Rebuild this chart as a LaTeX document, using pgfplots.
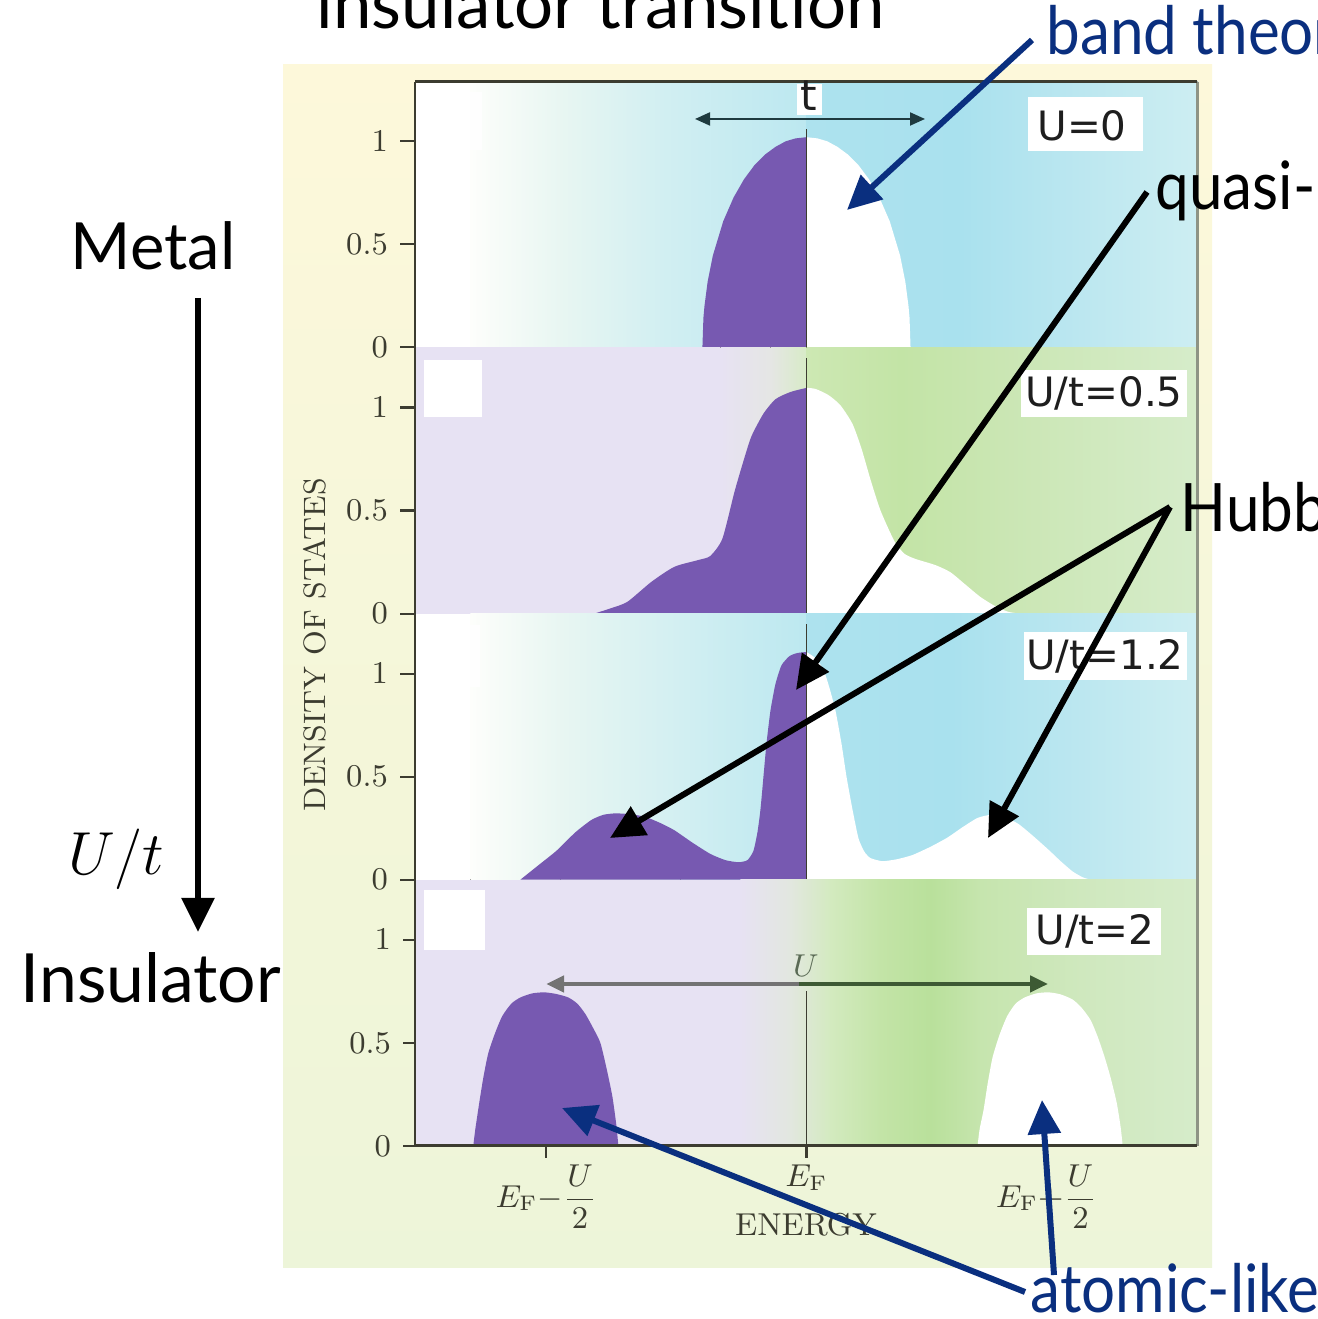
\documentclass[border=0pt]{standalone}
\usepackage{amsmath}
\usepackage{fontspec}
\usepackage{pgfplots}
\pgfplotsset{compat=1.18}
\usetikzlibrary{arrows.meta}
\newfontfamily\gill{Lato}
\newfontfamily\gilln[FakeStretch=0.9]{Lato}
\newfontfamily\dv{DejaVu Sans}
\definecolor{purp}{HTML}{7759B1}
\definecolor{navy}{HTML}{0A2F7F}
\definecolor{axdark}{HTML}{3C3C30}
\definecolor{axgray}{HTML}{8E9485}
\definecolor{bgtop}{HTML}{FDF8DA}
\definecolor{bgbot}{HTML}{EDF5D9}
\definecolor{lbl}{HTML}{1E1E1E}
% panel 1 / 3 cyan
\definecolor{cA}{HTML}{FDFEFB}
\definecolor{cB}{HTML}{E8F6F2}
\definecolor{cC}{HTML}{D2EFF2}
\definecolor{cD}{HTML}{C3EAF1}
\definecolor{cE}{HTML}{BCE8F0}
\definecolor{cF}{HTML}{ADE2EE}
\definecolor{cG}{HTML}{A9E1EE}
\definecolor{cH}{HTML}{BCE7F0}
\definecolor{cI}{HTML}{CDEEF2}
% lavender / green
\definecolor{lav}{HTML}{E7E2F3}
\definecolor{gA}{HTML}{E5E6E4}
\definecolor{gB}{HTML}{D7EBC6}
\definecolor{gC}{HTML}{CDE8B3}
\definecolor{gD}{HTML}{C3E4A6}
\definecolor{gE}{HTML}{CAE6B3}
\definecolor{gF}{HTML}{D6ECCA}
\definecolor{hA}{HTML}{E2E7DF}
\definecolor{hB}{HTML}{D3EABF}
\definecolor{hC}{HTML}{C3E4A7}
\definecolor{hD}{HTML}{B9E09B}
\definecolor{hE}{HTML}{C6E5AE}
\definecolor{hF}{HTML}{CFE8BE}
\definecolor{tarrow}{HTML}{1E3A3F}
\definecolor{uleft}{HTML}{737373}
\definecolor{uright}{HTML}{3D5A34}
\definecolor{ulab}{HTML}{5A6A55}
\pgfplotsset{panel/.style={width=7.82cm, height=2.66cm, scale only axis,
  xmin=415, xmax=1197, ymin=0, ymax=1.2913,
  axis line style={draw=none},
  ytick={0,0.5,1}, yticklabels={$0$,$0.5$,$1$},
  xtick=\empty, tick align=outside, tick pos=left, major tick length=0.15cm,
  every tick/.style={line width=0.6pt, color=axdark},
  yticklabel style={font=\fontsize{9.5}{10}\selectfont, text=axdark},
  anchor=south west}}
\tikzset{efline/.style={draw=axdark, line width=0.4pt},
  big/.style={line width=0.06cm, -{Triangle[length=0.34cm, width=0.32cm]}}}
\begin{document}
\begin{tikzpicture}[x=0.01cm,y=0.01cm]
\useasboundingbox (0,0) rectangle (1317,1319);
\clip (0,0) rectangle (1317,1319);
\fill[white] (0,0) rectangle (1317,1319);
\shade[top color=bgtop, bottom color=bgbot] (283,51) rectangle (1212,1254);

% ---------- panel 1: U=0
\begin{axis}[panel, at={(4.15cm,9.71cm)}]
\fill[white] (axis cs:415,0) rectangle (axis cs:471,1.2913);
\fill[left color=cA, right color=cB] (axis cs:470,0) rectangle (axis cs:561,1.2913);
\fill[left color=cB, right color=cC] (axis cs:560,0) rectangle (axis cs:661,1.2913);
\fill[left color=cC, right color=cD] (axis cs:660,0) rectangle (axis cs:761,1.2913);
\fill[left color=cD, right color=cE] (axis cs:760,0) rectangle (axis cs:807,1.2913);
\fill[left color=cF, right color=cG] (axis cs:806,0) rectangle (axis cs:961,1.2913);
\fill[left color=cG, right color=cH] (axis cs:960,0) rectangle (axis cs:1081,1.2913);
\fill[left color=cH, right color=cI] (axis cs:1080,0) rectangle (axis cs:1197,1.2913);
\addplot[fill=purp, draw=none] coordinates {(702,0) (703,0.144) (704.1,0.203) (707.2,0.318) (712.4,0.445) (722.8,0.612) (733.2,0.728) (743.6,0.816) (754,0.884) (764.4,0.935) (775,0.973) (785.2,1.0) (795,1.014) (806,1.02)} \closedcycle;
\addplot[fill=white, draw=none] coordinates {(806,1.02) (817,1.014) (826.8,1.0) (837,0.973) (847.6,0.935) (858,0.884) (868.4,0.816) (878.8,0.728) (889.2,0.612) (899.6,0.445) (904.8,0.318) (907.9,0.203) (909,0.144) (910,0)} \closedcycle;
\draw[efline] (axis cs:806,0) -- (axis cs:806,1.06);
\end{axis}

% ---------- panel 2: U/t=0.5
\begin{axis}[panel, at={(4.15cm,7.05cm)}]
\fill[lav] (axis cs:415,0) rectangle (axis cs:721,1.2913);
\fill[left color=lav, right color=gA] (axis cs:720,0) rectangle (axis cs:771,1.2913);
\fill[left color=gA, right color=gB] (axis cs:770,0) rectangle (axis cs:807,1.2913);
\fill[left color=gC, right color=gD] (axis cs:806,0) rectangle (axis cs:901,1.2913);
\fill[left color=gD, right color=gE] (axis cs:900,0) rectangle (axis cs:1001,1.2913);
\fill[left color=gE, right color=gF] (axis cs:1000,0) rectangle (axis cs:1197,1.2913);
\addplot[fill=purp, draw=none, smooth, tension=0.4] coordinates {(594,0) (610,0.025) (627,0.057) (651,0.154) (674,0.227) (698,0.26) (710,0.28) (722,0.364) (734,0.59) (743,0.74) (751,0.86) (763,0.97) (775,1.04) (790,1.075) (806,1.095)} \closedcycle;
\addplot[fill=white, draw=none, smooth, tension=0.4] coordinates {(806,1.095) (815,1.09) (828,1.06) (840,1.01) (852,0.92) (861,0.80) (870,0.65) (880,0.50) (894,0.35) (904,0.29) (915,0.265) (935,0.235) (950,0.20) (965,0.14) (980,0.08) (995,0.035) (1008,0.008) (1020,0)} \closedcycle;
\draw[efline] (axis cs:806,0) -- (axis cs:806,1.24);
\end{axis}

% ---------- panel 3: U/t=1.2
\begin{axis}[panel, at={(4.15cm,4.39cm)}]
\fill[white] (axis cs:415,0) rectangle (axis cs:471,1.2913);
\fill[left color=cA, right color=cB] (axis cs:470,0) rectangle (axis cs:561,1.2913);
\fill[left color=cB, right color=cC] (axis cs:560,0) rectangle (axis cs:681,1.2913);
\fill[left color=cC, right color=cE] (axis cs:680,0) rectangle (axis cs:807,1.2913);
\fill[left color=cF, right color=cG] (axis cs:806,0) rectangle (axis cs:951,1.2913);
\fill[left color=cG, right color=cH] (axis cs:950,0) rectangle (axis cs:1081,1.2913);
\fill[left color=cH, right color=cI] (axis cs:1080,0) rectangle (axis cs:1197,1.2913);
\addplot[fill=purp, draw=none, smooth, tension=0.35] coordinates {(520,0) (538,0.07) (556,0.14) (575,0.23) (591,0.29) (603,0.315) (615,0.322) (630,0.318) (645,0.305) (660,0.275) (674,0.24) (692,0.18) (710,0.125) (725,0.095) (738,0.085) (747,0.095) (753,0.14) (757,0.23) (760,0.34) (763,0.50) (766,0.66) (770,0.82) (775,0.95) (781,1.04) (789,1.085) (797,1.10) (806,1.105)} \closedcycle;
\addplot[fill=white, draw=none, smooth, tension=0.35] coordinates {(806,1.105) (815,1.075) (823,1.02) (829,0.93) (835,0.82) (841,0.66) (846,0.50) (852,0.34) (858,0.20) (864,0.135) (870,0.105) (882,0.09) (897,0.10) (912,0.12) (930,0.16) (947,0.205) (962,0.255) (977,0.30) (990,0.315) (1002,0.31) (1018,0.27) (1033,0.21) (1048,0.145) (1060,0.09) (1072,0.04) (1082,0.012) (1090,0)} \closedcycle;
\draw[efline] (axis cs:806,0) -- (axis cs:806,1.24);
\end{axis}

% ---------- panel 4: U/t=2
\begin{axis}[panel, at={(4.15cm,1.73cm)},
  xtick={546,806,1046},
  major tick length=0.12cm,
  xticklabels={$E_{\mathrm{F}}{-}\dfrac{U}{2}$, $E_{\mathrm{F}}$, $E_{\mathrm{F}}{+}\dfrac{U}{2}$},
  xticklabel style={font=\fontsize{9}{10}\selectfont, text=axdark, yshift=0.05cm}]
\fill[lav] (axis cs:415,0) rectangle (axis cs:741,1.2913);
\fill[left color=lav, right color=hA] (axis cs:740,0) rectangle (axis cs:791,1.2913);
\fill[left color=hA, right color=hB] (axis cs:790,0) rectangle (axis cs:831,1.2913);
\fill[left color=hB, right color=hC] (axis cs:830,0) rectangle (axis cs:881,1.2913);
\fill[left color=hC, right color=hD] (axis cs:880,0) rectangle (axis cs:931,1.2913);
\fill[left color=hD, right color=hE] (axis cs:930,0) rectangle (axis cs:981,1.2913);
\fill[left color=hE, right color=hF] (axis cs:980,0) rectangle (axis cs:1081,1.2913);
\fill[left color=hF, right color=gF] (axis cs:1080,0) rectangle (axis cs:1197,1.2913);
\addplot[fill=purp, draw=none, smooth, tension=0.4] coordinates {(473,0) (475,0.08) (479,0.21) (483,0.33) (488,0.45) (495,0.55) (502,0.63) (511,0.69) (520,0.72) (532,0.74) (544,0.745) (556,0.737) (568,0.72) (577,0.69) (585,0.64) (593,0.57) (600,0.50) (606,0.38) (612,0.24) (616,0.10) (618,0)} \closedcycle;
\addplot[fill=white, draw=none, smooth, tension=0.4] coordinates {(977,0) (979,0.08) (983,0.175) (987,0.30) (992,0.43) (999,0.54) (1006.6,0.63) (1015,0.69) (1024,0.72) (1036,0.74) (1048,0.745) (1060,0.735) (1072,0.71) (1081,0.67) (1090,0.61) (1097,0.53) (1104,0.43) (1110,0.33) (1116,0.21) (1120,0.09) (1122,0)} \closedcycle;
\draw[efline] (axis cs:806,0) -- (axis cs:806,0.75);
\end{axis}

% small white squares
\fill[white, opacity=0.85] (424,1169) rectangle (482,1227);
\fill[white] (424,902) rectangle (482,959);
\fill[white, opacity=0.85] (422,632) rectangle (480,694);
\fill[white] (424,369) rectangle (485,429);

% panel labels
\fill[white] (1028,1168) rectangle (1143,1222);
\fill[white] (1021,902) rectangle (1187,949);
\fill[white] (1024,639) rectangle (1187,687);
\fill[white] (1027,364) rectangle (1161,411);
\begin{scope}[every node/.style={font=\dv\fontsize{11.5}{12}\selectfont, text=lbl, inner sep=0pt}]
\node at (1082,1193) {U=0};
\node at (1104,926) {U/t=0.5};
\node at (1105,663) {U/t=1.2};
\node at (1095,388) {U/t=2};
\end{scope}

% frame
\draw[axgray, line width=0.03cm] (1197,173) -- (1197,1237);
\draw[axdark, line width=0.03cm] (415,1237) -- (1197,1237);
\draw[axdark, line width=0.025cm] (415,173) -- (415,1237);
\draw[axdark, line width=0.03cm] (415,173) -- (1197,173);

% axis titles
\node[rotate=90, font=\fontsize{8.8}{9}\selectfont, text=axdark] at (315,674) {DENSITY OF STATES};
\node[anchor=base, font=\fontsize{9}{10}\selectfont, text=axdark] at (806,83) {ENERGY};

% t arrow
\fill[white] (797,1204) rectangle (822,1235);
\node[anchor=base, font=\dv\fontsize{12}{12}\selectfont, text=lbl] at (809,1208) {t};
\draw[tarrow, line width=0.02cm, {Triangle[length=0.15cm, width=0.13cm]}-{Triangle[length=0.15cm, width=0.13cm]}] (695,1200) -- (925,1200);

% U arrow
\draw[uleft, line width=0.045cm, {Triangle[length=0.18cm, width=0.16cm]}-] (546,335) -- (800,335);
\draw[uright, line width=0.045cm, -{Triangle[length=0.18cm, width=0.16cm]}] (799,335) -- (1048,335);
\node[font=\fontsize{9}{10}\selectfont, text=ulab] at (806,353) {$U$};

% annotation texts
\begin{scope}[every node/.style={font=\gilln\fontsize{19}{20}\selectfont, inner sep=0pt}]
\node[anchor=base west, font=\gill\fontsize{19.6}{20}\selectfont] at (316,1290) {insulator transition};
\node[anchor=base west, font=\gill\fontsize{18.5}{20}\selectfont] at (70,1049) {Metal};
\node[anchor=base west, font=\gill\fontsize{19.3}{20}\selectfont] at (20,316) {Insulator};
\node[anchor=base west, text=navy] at (1046,1264) {band theory};
\node[anchor=base west] at (1155,1109) {quasi-particle};
\node[anchor=base west] at (1180,787) {Hubbard bands};
\node[anchor=base west, text=navy] at (1030,7) {atomic-like};
\end{scope}
\node[anchor=base east, inner sep=0pt, font=\fontsize{19}{20}\selectfont] at (165,444) {$U/t$};

% annotation arrows
\draw[big] (198,1021) -- (198,387);
\draw[big, navy] (1032,1279) -- (847,1109);
\draw[big] (1147,1127) -- (796,629);
\draw[big] (1170,812) -- (610,481);
\draw[big] (1170,812) -- (988,481);
\draw[big, navy] (1025,27) -- (562,211);
\draw[big, navy] (1054,44) -- (1042,219);
\end{tikzpicture}
\end{document}
